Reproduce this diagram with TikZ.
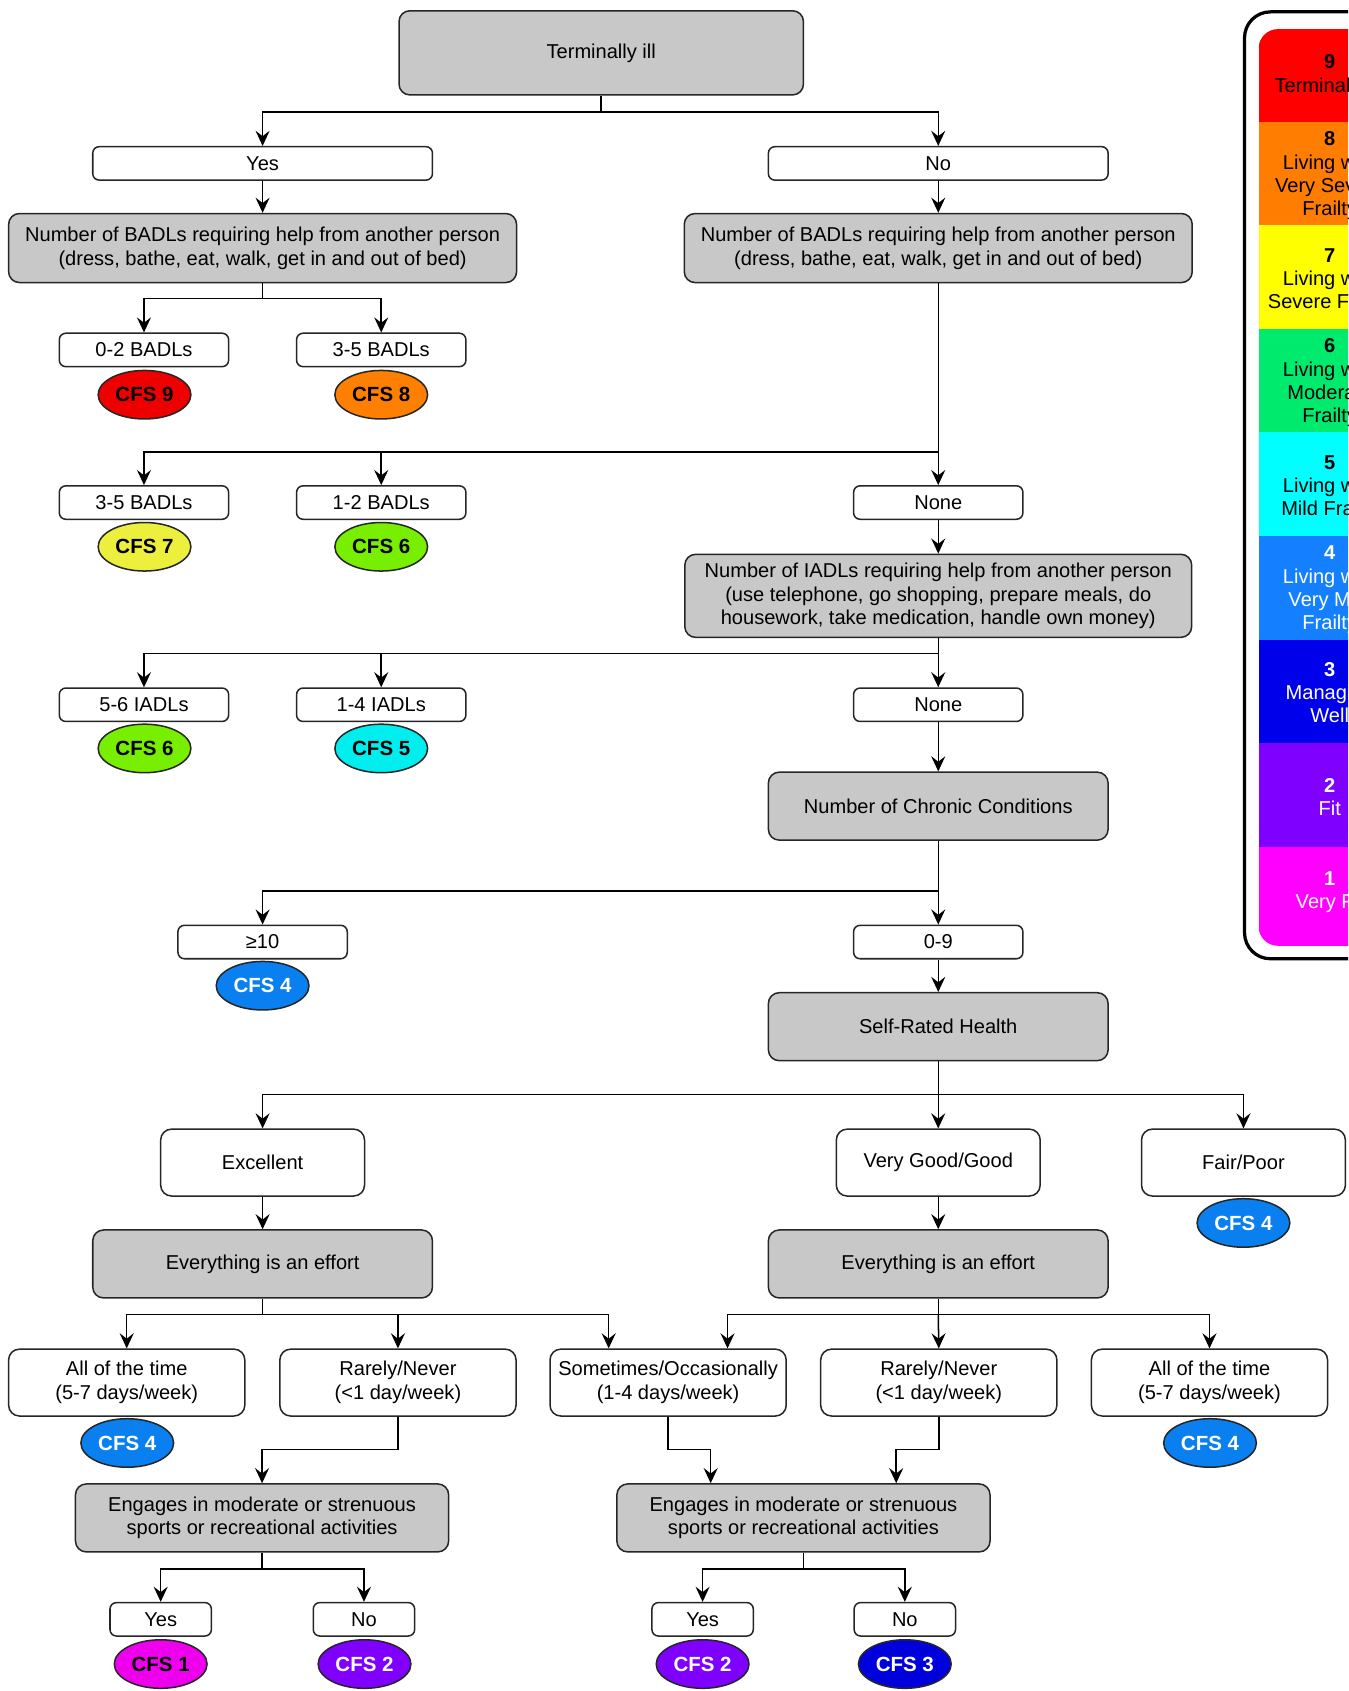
\documentclass[tikz,border=0pt]{standalone}
\usepackage{fontspec}
\setmainfont{Liberation Sans}
\usetikzlibrary{arrows.meta,calc,shapes.geometric}
\definecolor{boxgray}{RGB}{200,200,200}
\definecolor{c9}{RGB}{238,0,0}
\definecolor{c8}{RGB}{255,128,0}
\definecolor{c7}{RGB}{236,240,60}
\definecolor{c6}{RGB}{120,238,0}
\definecolor{c5}{RGB}{0,238,238}
\definecolor{c4}{RGB}{10,128,240}
\definecolor{c3}{RGB}{0,0,220}
\definecolor{c2}{RGB}{128,0,255}
\definecolor{c1}{RGB}{238,0,238}
\definecolor{l9}{RGB}{255,0,0}
\definecolor{l8}{RGB}{255,125,0}
\definecolor{l7}{RGB}{255,255,0}
\definecolor{l6}{RGB}{0,235,110}
\definecolor{l5}{RGB}{0,255,255}
\definecolor{l4}{RGB}{20,128,255}
\definecolor{l3}{RGB}{0,0,235}
\definecolor{l2}{RGB}{127,0,255}
\definecolor{l1}{RGB}{255,0,255}
\tikzset{
  base/.style={draw=black!85, line width=0.7pt, inner sep=0pt, align=center, font=\fontsize{9.3}{11}\selectfont},
  gbox/.style={base, fill=boxgray, rounded corners=5pt},
  wbox/.style={base, fill=white, rounded corners=3pt},
  wbig/.style={base, fill=white, rounded corners=5pt},
  sbox/.style={wbox, minimum width=78.5pt, minimum height=15.5pt},
  ybox/.style={wbox, minimum width=47pt, minimum height=15.5pt},
  mgbox/.style={gbox, minimum width=157.5pt, minimum height=31.5pt},
  optbox/.style={wbig, minimum width=94.5pt, minimum height=31pt},
  fbox/.style={wbig, minimum width=109.5pt, minimum height=31pt},
  cfs/.style={ellipse, draw=black!85, line width=0.7pt, minimum width=43pt, minimum height=22.5pt, inner sep=0pt, font=\bfseries\fontsize{9.5}{11}\selectfont, fill=#1},
  arr/.style={line width=0.7pt, -{Stealth[length=7pt,width=6.5pt,inset=2.5pt,fill=black]}},
  ln/.style={line width=0.7pt},
  leg/.style={align=center, inner sep=0pt, font=\fontsize{9.3}{10.75}\selectfont},
}
\begin{document}
\begin{tikzpicture}[x=0.5pt,y=-0.5pt]
\useasboundingbox (0,0) rectangle (1250,1568);
\fill[white] (0,0) rectangle (1250,1568);

% ---------- legend ----------
\begin{scope}
\clip (0,0) rectangle (1250,1568);
\draw[line width=1.5pt, rounded corners=12pt] (1154,11) rectangle (1420,889);
\begin{scope}
\clip[rounded corners=9pt] (1167,27) rectangle (1400,877);
\fill[l9] (1167,27) rectangle (1400,113);
\fill[l8] (1167,113) rectangle (1400,209);
\fill[l7] (1167,209) rectangle (1400,305);
\fill[l6] (1167,305) rectangle (1400,401);
\fill[l5] (1167,401) rectangle (1400,497);
\fill[l4] (1167,497) rectangle (1400,593);
\fill[l3] (1167,593) rectangle (1400,689);
\fill[l2] (1167,689) rectangle (1400,785);
\fill[l1] (1167,785) rectangle (1400,877);
\end{scope}
\node[leg] (lg9) at (1233,70) {\textbf{9}\\Terminally Ill};
\node[leg] (lg8) at (1233,163) {\textbf{8}\\Living with\\Very Severe\\Frailty};
\node[leg] (lg7) at (1233,260) {\textbf{7}\\Living with\\Severe Frailty};
\node[leg] (lg6) at (1233,355) {\textbf{6}\\Living with\\Moderate\\Frailty};
\node[leg] (lg5) at (1233,452) {\textbf{5}\\Living with\\Mild Frailty};
\node[leg, text=white] (lg4) at (1233,547) {\textbf{4}\\Living with\\Very Mild\\Frailty};
\node[leg, text=white] (lg3) at (1233,642) {\textbf{3}\\Managing\\Well};
\node[leg, text=white] (lg2) at (1233,739) {\textbf{2}\\Fit};
\node[leg, text=white] (lg1) at (1233,827) {\textbf{1}\\Very Fit};
\end{scope}

% ---------- nodes ----------
\node[gbox, minimum width=187.5pt, minimum height=39pt] (top) at (557.5,49) {Terminally ill};
\node[wbox, minimum width=157.5pt, minimum height=15.5pt] (yes) at (243.5,151.5) {Yes};
\node[wbox, minimum width=157.5pt, minimum height=15.5pt] (no) at (870,151.5) {No};
\node[gbox, minimum width=235.5pt, minimum height=32pt] (badlL) at (243.5,230) {Number of BADLs requiring help from another person\\(dress, bathe, eat, walk, get in and out of bed)};
\node[gbox, minimum width=235.5pt, minimum height=32pt] (badlR) at (870,230) {Number of BADLs requiring help from another person\\(dress, bathe, eat, walk, get in and out of bed)};

\node[sbox] (b02) at (133.5,324.5) {0-2 BADLs};
\node[sbox] (b35a) at (353.5,324.5) {3-5 BADLs};
\node[cfs=c9] (e9) at (134,366) {CFS 9};
\node[cfs=c8] (e8) at (353.5,366) {CFS 8};

\node[sbox] (b35b) at (133.5,466) {3-5 BADLs};
\node[sbox] (b12) at (353.5,466) {1-2 BADLs};
\node[sbox] (none1) at (870,466) {None};
\node[cfs=c7] (e7) at (134,507) {CFS 7};
\node[cfs=c6] (e6a) at (353.5,507) {CFS 6};

\node[gbox, minimum width=235pt, minimum height=38.5pt] (iadl) at (870,552.5) {Number of IADLs requiring help from another person\\(use telephone, go shopping, prepare meals, do\\housework, take medication, handle own money)};

\node[sbox] (i56) at (133.5,653.5) {5-6 IADLs};
\node[sbox] (i14) at (353.5,653.5) {1-4 IADLs};
\node[sbox] (none2) at (870,653.5) {None};
\node[cfs=c6] (e6b) at (134,694) {CFS 6};
\node[cfs=c5] (e5) at (353.5,694) {CFS 5};

\node[mgbox] (chron) at (870,747.5) {Number of Chronic Conditions};
\node[sbox] (ge10) at (243.5,873.5) {≥10};
\node[sbox] (n09) at (870,873.5) {0-9};
\node[cfs=c4, text=white] (e4a) at (243.5,914) {CFS 4};
\node[mgbox] (srh) at (870,952) {Self-Rated Health};

\node[optbox] (exc) at (243.5,1078) {Excellent};
\node[optbox] (vg) at (870,1078) {Very Good/Good};
\node[optbox] (fp) at (1153,1078) {Fair/Poor};
\node[cfs=c4, text=white] (e4b) at (1153,1134) {CFS 4};

\node[mgbox] (effL) at (243.5,1172) {Everything is an effort};
\node[mgbox] (effR) at (870,1172) {Everything is an effort};

\node[fbox] (allL) at (117.5,1282) {All of the time\\(5-7 days/week)};
\node[fbox] (rnL) at (369,1282) {Rarely/Never\\(<1 day/week)};
\node[fbox] (soc) at (619.5,1282) {Sometimes/Occasionally\\(1-4 days/week)};
\node[fbox] (rnR) at (870.5,1282) {Rarely/Never\\(<1 day/week)};
\node[fbox] (allR) at (1121.5,1282) {All of the time\\(5-7 days/week)};
\node[cfs=c4, text=white] (e4c) at (118,1338) {CFS 4};
\node[cfs=c4, text=white] (e4d) at (1122,1338) {CFS 4};

\node[gbox, minimum width=173pt, minimum height=31.5pt] (engL) at (243,1407.5) {Engages in moderate or strenuous\\sports or recreational activities};
\node[gbox, minimum width=173pt, minimum height=31.5pt] (engR) at (745,1407.5) {Engages in moderate or strenuous\\sports or recreational activities};

\node[ybox] (yL) at (149,1501.5) {Yes};
\node[ybox] (nL) at (337.5,1501.5) {No};
\node[ybox] (yR) at (651.5,1501.5) {Yes};
\node[ybox] (nR) at (839,1501.5) {No};
\node[cfs=c1] (e1) at (149,1543) {CFS 1};
\node[cfs=c2, text=white] (e2a) at (338,1543) {CFS 2};
\node[cfs=c2, text=white] (e2b) at (651.5,1543) {CFS 2};
\node[cfs=c3, text=white] (e3) at (839,1543) {CFS 3};

% ---------- connectors ----------
\coordinate (j1) at (557.5,104);
\draw[ln] (top.south) -- (j1);
\draw[arr] (j1) -| (yes.north);
\draw[arr] (j1) -| (no.north);
\draw[arr] (yes.south) -- (badlL.north);
\draw[arr] (no.south) -- (badlR.north);

\coordinate (j2) at (243.5,277);
\draw[ln] (badlL.south) -- (j2);
\draw[arr] (j2) -| (b02.north);
\draw[arr] (j2) -| (b35a.north);

\coordinate (j3) at (870,419);
\draw[ln] (badlR.south) -- (j3);
\draw[arr] (j3) -- (none1.north);
\draw[arr] (j3) -| (b35b.north);
\draw[arr] (b12.north |- j3) -- (b12.north);
\draw[arr] (none1.south) -- (iadl.north);

\coordinate (j4) at (870,606);
\draw[ln] (iadl.south) -- (j4);
\draw[arr] (j4) -- (none2.north);
\draw[arr] (j4) -| (i56.north);
\draw[arr] (i14.north |- j4) -- (i14.north);
\draw[arr] (none2.south) -- (chron.north);

\coordinate (j5) at (870,826);
\draw[ln] (chron.south) -- (j5);
\draw[arr] (j5) -- (n09.north);
\draw[arr] (j5) -| (ge10.north);
\draw[arr] (n09.south) -- (srh.north);

\coordinate (j6) at (870,1015);
\draw[ln] (srh.south) -- (j6);
\draw[arr] (j6) -- (vg.north);
\draw[arr] (j6) -| (exc.north);
\draw[arr] (j6) -| (fp.north);
\draw[arr] (exc.south) -- (effL.north);
\draw[arr] (vg.south) -- (effR.north);

\coordinate (socL) at ($(soc.north west)!0.25!(soc.north east)$);
\coordinate (socR) at ($(soc.north west)!0.75!(soc.north east)$);
\coordinate (j7) at (243.5,1219);
\draw[ln] (effL.south) -- (j7);
\draw[arr] (j7) -| (allL.north);
\draw[arr] (j7) -| (rnL.north);
\draw[arr] (j7) -| (socL);
\coordinate (j8) at (870,1219);
\draw[ln] (effR.south) -- (j8);
\draw[arr] (j8) -- (rnR.north);
\draw[arr] (j8) -| (socR);
\draw[arr] (j8) -| (allR.north);

\coordinate (k1) at (369,1344);
\coordinate (k2) at (619.5,1344);
\coordinate (k3) at (870.5,1344);
\coordinate (engRa) at ($(engR.north)+(-86,0)$);
\coordinate (engRb) at ($(engR.north)+(86,0)$);
\draw[arr] (rnL.south) -- (k1) -| (engL.north);
\draw[arr] (soc.south) -- (k2) -| (engRa);
\draw[arr] (rnR.south) -- (k3) -| (engRb);

\coordinate (j9) at (243,1455);
\draw[ln] (engL.south) -- (j9);
\draw[arr] (j9) -| (yL.north);
\draw[arr] (j9) -| (nL.north);
\coordinate (j10) at (745,1455);
\draw[ln] (engR.south) -- (j10);
\draw[arr] (j10) -| (yR.north);
\draw[arr] (j10) -| (nR.north);
\end{tikzpicture}
\end{document}
